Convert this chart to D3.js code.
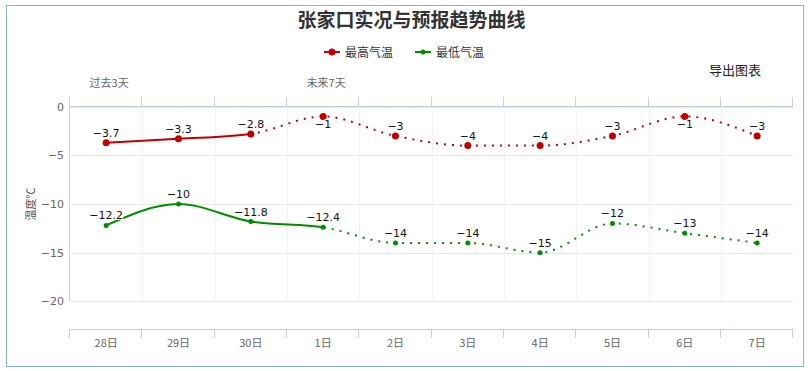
<!DOCTYPE html>
<html>
<head>
<meta charset="utf-8">
<script src="https://cdn.jsdelivr.net/npm/d3@7"></script>
<style>
  body { margin: 0; background: #fff; }
  svg { display: block; font-family: "Liberation Sans", "Noto Sans CJK SC", sans-serif; }
</style>
</head>
<body>
<svg id="chart" width="808" height="371"></svg>
<script>
// chart data
var days = ['28日', '29日', '30日', '1日', '2日', '3日', '4日', '5日', '6日', '7日'];
var maxTemp = [-3.7, -3.3, -2.8, -1, -3, -4, -4, -3, -1, -3];
var minTemp = [-12.2, -10, -11.8, -12.4, -14, -14, -15, -12, -13, -14];
var yTicks = [0, -5, -10, -15, -20];
// last observed index for each series (solid up to here, dotted after)
var maxObsEnd = 2;
var minObsEnd = 3;
var periodLabels = [{ text: '过去3天', day: '28日' }, { text: '未来7天', day: '1日' }];

document.addEventListener("DOMContentLoaded", function() {
  var svg = d3.select('#chart');
  var cjk = '"Noto Sans CJK SC", sans-serif';

  var left = 70, right = 793.3, top = 106.7, bottom = 329.3;

  var x = d3.scaleBand().domain(days).range([left, right]);
  var y = d3.scaleLinear().domain([0, -20]).range([top, 301.3]);
  var cx = function(i) { return x(days[i]) + x.bandwidth() / 2; };

  // outer frame
  svg.append('rect')
    .attr('x', 6.5).attr('y', 5.5).attr('width', 797).attr('height', 361)
    .attr('fill', '#fff').attr('stroke', '#86b3e3').attr('stroke-width', 1);

  // title
  svg.append('text')
    .attr('x', 411.5).attr('y', 27)
    .attr('text-anchor', 'middle')
    .style('font-family', cjk).style('font-size', '19px').style('font-weight', 'bold')
    .attr('fill', '#333')
    .text('张家口实况与预报趋势曲线');

  // legend
  var legend = [
    { name: '最高气温', color: '#c00000', x: 324, r: 3.5 },
    { name: '最低气温', color: '#008c00', x: 415, r: 2.5 }
  ];
  legend.forEach(function(l) {
    var g = svg.append('g').attr('transform', 'translate(' + l.x + ',52)');
    g.append('line').attr('x1', 0).attr('x2', 16).attr('stroke', l.color).attr('stroke-width', 2);
    g.append('circle').attr('cx', 8).attr('r', l.r).attr('fill', l.color);
    g.append('text').attr('x', 21).attr('y', 4.5)
      .style('font-family', cjk).style('font-size', '12px').attr('fill', '#333')
      .text(l.name);
  });

  // export button text
  svg.append('text')
    .attr('x', 735).attr('y', 75).attr('text-anchor', 'middle')
    .style('font-family', cjk).style('font-size', '13px').attr('fill', '#222')
    .text('导出图表');

  // horizontal grid
  svg.append('g').selectAll('line').data(yTicks).enter().append('line')
    .attr('x1', left).attr('x2', right)
    .attr('y1', function(d) { return Math.round(y(d)) + 0.5; })
    .attr('y2', function(d) { return Math.round(y(d)) + 0.5; })
    .attr('stroke', '#e6e6e6');

  // vertical grid at category boundaries
  var bounds = days.map(function(d) { return x(d); }).concat([right]);
  svg.append('g').selectAll('line').data(bounds.slice(1, -1)).enter().append('line')
    .attr('x1', function(d) { return Math.round(d) + 0.5; })
    .attr('x2', function(d) { return Math.round(d) + 0.5; })
    .attr('y1', top).attr('y2', 301.3)
    .attr('stroke', '#f2f2f2');

  // left axis line
  svg.append('line')
    .attr('x1', 69.5).attr('x2', 69.5).attr('y1', top).attr('y2', 301.3)
    .attr('stroke', '#c0d0e0');

  // y axis labels
  var yAxis = d3.axisLeft(y).tickValues(yTicks).tickSize(0).tickPadding(6);
  var ya = svg.append('g').attr('transform', 'translate(' + left + ',0)').call(yAxis);
  ya.select('.domain').remove();
  ya.selectAll('text').style('font-size', '11px').style('font-family', '"DejaVu Sans", sans-serif').attr('fill', '#666');

  svg.append('text')
    .attr('transform', 'translate(35,204) rotate(-90)')
    .attr('text-anchor', 'middle')
    .style('font-family', cjk).style('font-size', '11px').attr('fill', '#555')
    .text('温度℃');

  // top axis
  svg.append('line').attr('x1', left).attr('x2', right).attr('y1', 106.5).attr('y2', 106.5).attr('stroke', '#c0d0e0');
  svg.append('g').selectAll('line').data(bounds).enter().append('line')
    .attr('x1', function(d) { return Math.round(d) - 0.5; })
    .attr('x2', function(d) { return Math.round(d) - 0.5; })
    .attr('y1', 97).attr('y2', 106.5)
    .attr('stroke', '#c0d0e0');
  svg.append('g').selectAll('text').data(periodLabels).enter().append('text')
    .attr('x', function(d) { return x(d.day) + x.bandwidth() / 2 + 3; })
    .attr('y', 87)
    .attr('text-anchor', 'middle')
    .style('font-family', cjk).style('font-size', '11px').attr('fill', '#666')
    .text(function(d) { return d.text; });

  // bottom axis
  var xAxis = d3.axisBottom(x).tickSize(0).tickPadding(10);
  var xa = svg.append('g').attr('transform', 'translate(0,329.5)').call(xAxis);
  xa.select('.domain').remove();
  xa.selectAll('text').style('font-size', '11px').style('font-family', cjk).attr('fill', '#666');
  svg.append('line').attr('x1', left).attr('x2', right).attr('y1', 329.5).attr('y2', 329.5).attr('stroke', '#c0d0e0');
  svg.append('g').selectAll('line').data(bounds).enter().append('line')
    .attr('x1', function(d) { return Math.round(d) - 0.5; })
    .attr('x2', function(d) { return Math.round(d) - 0.5; })
    .attr('y1', 329.5).attr('y2', 338)
    .attr('stroke', '#c0d0e0');

  // series
  var series = [
    { values: maxTemp, color: '#c00000', end: maxObsEnd, r: 3.5, id: 'max' },
    { values: minTemp, color: '#008c00', end: minObsEnd, r: 2.5, id: 'min' }
  ];
  var line = d3.line()
    .x(function(d, i) { return cx(i); })
    .y(function(d) { return y(d); })
    .curve(d3.curveMonotoneX);

  var defs = svg.append('defs');
  series.forEach(function(s) {
    var split = cx(s.end);
    defs.append('clipPath').attr('id', 'solid-' + s.id)
      .append('rect').attr('x', 0).attr('y', 0).attr('width', split).attr('height', 371);
    defs.append('clipPath').attr('id', 'dot-' + s.id)
      .append('rect').attr('x', split).attr('y', 0).attr('width', 808 - split).attr('height', 371);

    svg.append('path').datum(s.values)
      .attr('d', line).attr('fill', 'none')
      .attr('stroke', s.color).attr('stroke-width', 2)
      .attr('clip-path', 'url(#solid-' + s.id + ')');
    svg.append('path').datum(s.values)
      .attr('d', line).attr('fill', 'none')
      .attr('stroke', s.color).attr('stroke-width', 2)
      .attr('stroke-dasharray', '2,6')
      .attr('clip-path', 'url(#dot-' + s.id + ')');

    svg.append('g').selectAll('circle').data(s.values).enter().append('circle')
      .attr('cx', function(d, i) { return cx(i); })
      .attr('cy', function(d) { return y(d); })
      .attr('r', s.r)
      .attr('fill', s.color);

    // data labels: above the point, or below when they would leave the plot
    svg.append('g').selectAll('text').data(s.values).enter().append('text')
      .attr('x', function(d, i) { return cx(i); })
      .attr('y', function(d) {
        var py = y(d);
        return (py - 17 < top) ? py + 12 : py - 6;
      })
      .attr('text-anchor', 'middle')
      .style('font-family', '"DejaVu Sans", sans-serif').style('font-size', '11px')
      .attr('fill', '#111')
      .attr('stroke', '#fff').attr('stroke-width', 2).attr('paint-order', 'stroke')
      .text(function(d) { return String(d).replace('-', '\u2212'); });
  });
});
</script>
</body>
</html>
